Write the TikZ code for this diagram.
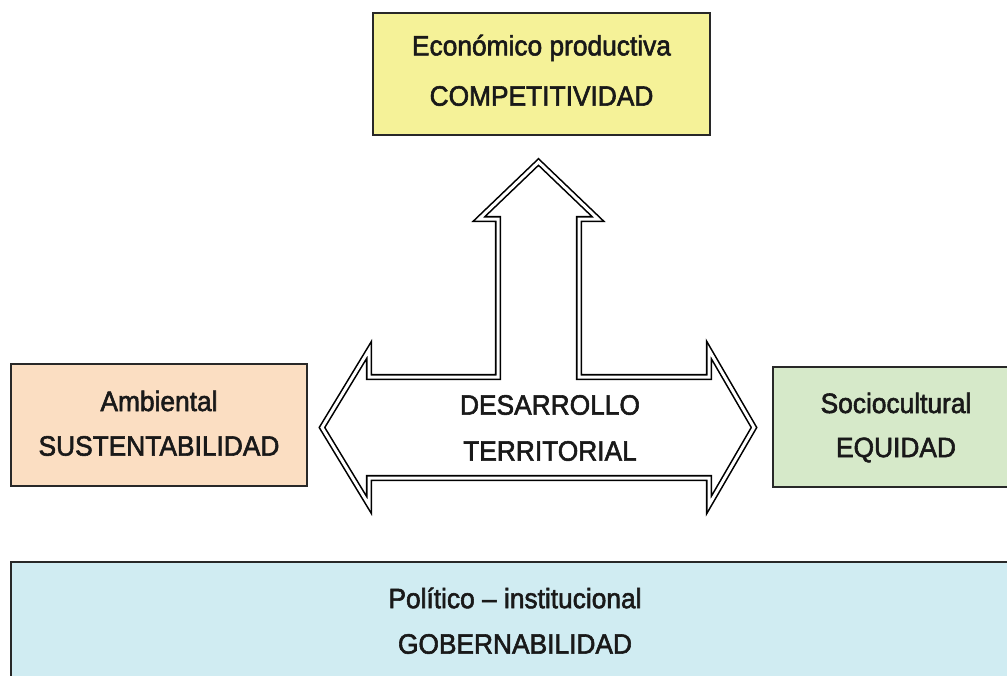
\documentclass[tikz,border=0pt]{standalone}
\usepackage{fontspec}
\setmainfont{Liberation Sans}[FakeBold=2,FakeStretch=0.94]
\definecolor{ylw}{RGB}{245,242,152}
\definecolor{pch}{RGB}{251,222,194}
\definecolor{grn}{RGB}{214,233,201}
\definecolor{blu}{RGB}{208,236,242}
\definecolor{txt}{RGB}{25,25,25}
\definecolor{bord}{RGB}{40,40,40}
\begin{document}
\begin{tikzpicture}[x=1pt,y=-1pt,
  box/.style={draw=bord,line width=1.4pt,anchor=north west,inner sep=0pt},
  lbl/.style={text=txt,font=\fontsize{28}{30}\selectfont,inner sep=0pt,anchor=center},
  bigarrow/.style={draw=black,line width=1.6pt,double=white,double distance=3pt,fill=white,line join=miter}]
\useasboundingbox (0,0) rectangle (1007,675);
% boxes
\path[box,fill=ylw] (373,13) rectangle (710,135);
\node[inner sep=0pt] (eco) at (541.5,74) {};
\path[box,fill=pch] (11,364) rectangle (307,486);
\node[inner sep=0pt] (amb) at (159,425) {};
\path[box,fill=grn] (773,367) rectangle (1020,487);
\node[inner sep=0pt] (soc) at (896,427) {};
\path[box,fill=blu] (11,562) rectangle (1020,690);
\node[inner sep=0pt] (pol) at (515,621) {};
% arrow
\path[bigarrow] (538.5,162) -- (598,219) -- (579,219) -- (579,377) -- (709,377) -- (709,350)
  -- (754,427.5) -- (709,505) -- (709,478) -- (369,478) -- (369,505) -- (322,427.5)
  -- (369,350) -- (369,377) -- (498,377) -- (498,219) -- (479,219) -- cycle;
% texts
\node[lbl] (ecoa) at (541.5,48) {Económico productiva};
\node[lbl] (ecob) at (541.5,96) {COMPETITIVIDAD};
\node[lbl] (amba) at (159,401) {Ambiental};
\node[lbl] (ambb) at (159,446) {SUSTENTABILIDAD};
\node[lbl] (soca) at (896,403) {Sociocultural};
\node[lbl] (socb) at (896,450) {EQUIDAD};
\node[lbl] (desa) at (550,405) {DESARROLLO};
\node[lbl] (desb) at (550,451) {TERRITORIAL};
\node[lbl] (pola) at (515,598) {Político – institucional};
\node[lbl] (polb) at (515,644) {GOBERNABILIDAD};
\end{tikzpicture}
\end{document}
